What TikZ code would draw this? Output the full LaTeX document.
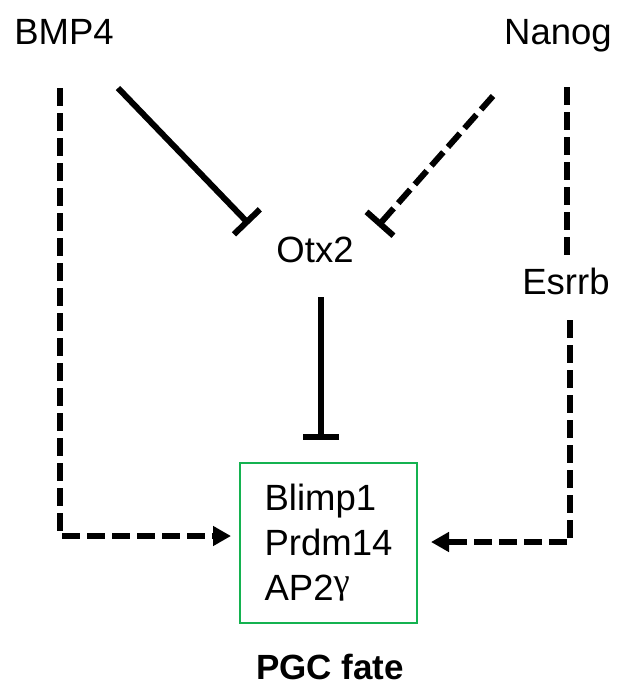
\documentclass[tikz,border=0pt]{standalone}
\usepackage{fontspec}
\setmainfont{Liberation Sans}
\newfontfamily\grk{Liberation Serif}
\usetikzlibrary{arrows.meta}
\definecolor{boxgreen}{RGB}{20,178,80}

\begin{document}
\begin{tikzpicture}[x=1pt, y=-1pt,
          lbl/.style={font=\fontsize{36.5}{45}\selectfont, inner sep=0pt},
          act/.style={line width=6pt, dash pattern=on 18pt off 7pt},
          inh/.style={line width=6pt, -{Bar[width=36pt]}},
          tip/.style={-{Triangle[length=18pt,width=19pt]}}]
          \useasboundingbox (0,0) rectangle (624,689);

          \node[lbl, anchor=base] (bmp) at (64,44) {BMP4};
          \node[lbl, anchor=base] (nanog) at (558,44) {Nanog};
          \node[lbl, anchor=base] (otx) at (315,262) {Otx2};
          \node[lbl, anchor=base] (esrrb) at (566,294) {Esrrb};
          \node[lbl, draw=boxgreen, line width=2pt, align=left, minimum width=177pt,
            minimum height=160pt] (box) at (328.5,543)
            {Blimp1\\Prdm14\\AP2{\grk\raisebox{0.2em}{γ}}};
          \node[lbl, anchor=base, font=\fontsize{35}{45}\selectfont\bfseries] (fate)
            at (330,679) {PGC fate};

          \coordinate (b1) at (60,88);
          \coordinate (b2) at (118,88);
          \coordinate (b3) at (249,224);
          \coordinate (n1) at (493,96);
          \coordinate (n2) at (378,226);
          \coordinate (n3) at (567,87);
          \coordinate (n4) at (567,258);
          \coordinate (o1) at (321,297);
          \coordinate (o2) at (321,440);
          \coordinate (e1) at (570,320);

          \draw[act, tip, shorten >=8pt] (b1) |- ([yshift=7pt]box.west);
          \draw[inh] (b2) -- (b3);
          \draw[act, inh] (n1) -- (n2);
          \draw[act] (n3) -- (n4);
          \draw[inh] (o1) -- (o2);
          \draw[act, tip, shorten >=13pt] (e1) |- ([yshift=1pt]box.east);
        \end{tikzpicture}
\end{document}
